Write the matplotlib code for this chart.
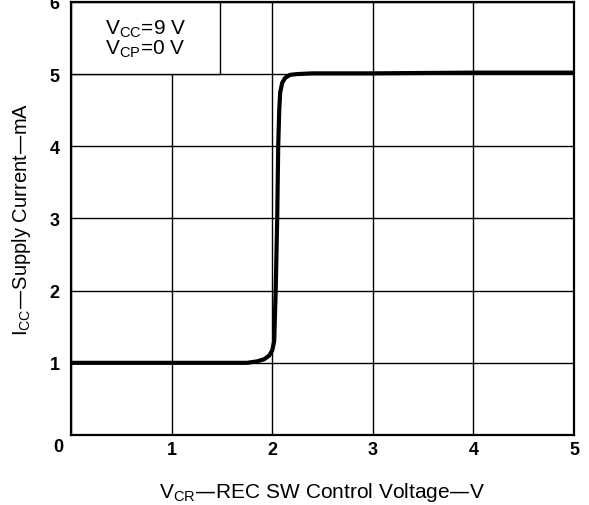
import numpy as np
import matplotlib.pyplot as plt
from matplotlib.patches import Rectangle

plt.rcParams['font.family'] = ['Liberation Sans', 'DejaVu Sans']

# curve
vcr = [0.0, 1.0, 1.5, 1.75, 1.85, 1.92, 1.97, 2.0, 2.02, 2.035, 2.05, 2.06,
       2.07, 2.08, 2.1, 2.13, 2.18, 2.25, 2.4, 3.0, 4.0, 5.0]
icc = [1.0, 1.0, 1.0, 1.0, 1.02, 1.05, 1.1, 1.17, 1.3, 2.0, 3.0, 4.0,
       4.5, 4.75, 4.88, 4.95, 4.99, 5.0, 5.01, 5.01, 5.02, 5.02]
xticks = [0, 1, 2, 3, 4, 5]
yticks = [0, 1, 2, 3, 4, 5, 6]
cond = ["V$_{\\mathregular{CC}}$=9 V", "V$_{\\mathregular{CP}}$=0 V"]

fig = plt.figure(figsize=(5.89, 5.06), dpi=100)
ax = fig.add_axes([0.1205, 0.1383, 0.854, 0.856])

ax.set_xlim(0, 5)
ax.set_ylim(0, 6)
ax.set_xticks(xticks)
ax.set_yticks(yticks)
# one shared "0" at the corner, drawn below
ax.set_xticklabels([''] + [str(v) for v in xticks[1:]])
ax.set_yticklabels([''] + [str(v) for v in yticks[1:]])
ax.tick_params(length=0, labelsize=13)
ax.tick_params(axis='x', pad=4)
ax.tick_params(axis='y', pad=8)
for t in ax.get_xticklabels() + ax.get_yticklabels():
    t.set_fontweight('bold')
ax.annotate("0", xy=(0, 0), xytext=(-9, -8), textcoords='offset points',
            ha='center', va='center', fontsize=13, fontweight='bold')
ax.grid(True, color='black', linewidth=1.0)
for s in ax.spines.values():
    s.set_linewidth(1.6)

ax.plot(vcr, icc, color='black', linewidth=3, solid_capstyle='round', zorder=3)

# condition box in the top left corner
ax.add_patch(Rectangle((0, 5), 1.48, 1, facecolor='white', edgecolor='black',
                       linewidth=1.0, zorder=2.5))
ax.text(0.74, 5.64, cond[0], ha='center', va='center', fontsize=15, zorder=4)
ax.text(0.74, 5.36, cond[1], ha='center', va='center', fontsize=15, zorder=4)

ax.set_xlabel("V$_{\\mathregular{CR}}$—REC SW Control Voltage—V", fontsize=15, labelpad=16)
ax.set_ylabel("I$_{\\mathregular{CC}}$—Supply Current—mA", fontsize=14.5, labelpad=12)

fig.savefig('out.png', dpi=100)
